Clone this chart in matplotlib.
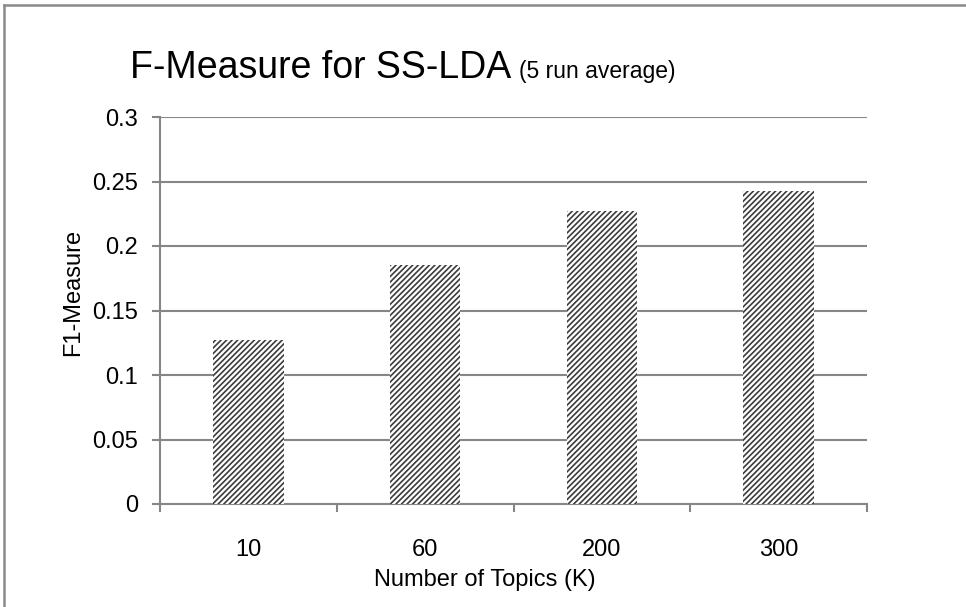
import matplotlib
matplotlib.use("Agg")
import matplotlib.pyplot as plt
from matplotlib.lines import Line2D

plt.rcParams['font.family'] = ['Liberation Sans', 'DejaVu Sans']
plt.rcParams['hatch.color'] = '#3c3c3c'
plt.rcParams['hatch.linewidth'] = 1.2

topics = ['10', '60', '200', '300']
f1 = [0.127, 0.185, 0.227, 0.243]
yticks = [0, 0.05, 0.1, 0.15, 0.2, 0.25, 0.3]
ytick_labels = ['0', '0.05', '0.1', '0.15', '0.2', '0.25', '0.3']

grey = '#868686'

fig = plt.figure(figsize=(9.66, 6.07), dpi=100)
ax = fig.add_axes([160 / 966, 1 - 504 / 607, 707 / 966, 387 / 607])

pos = list(range(len(topics)))
ax.bar(pos, f1, width=0.4, color='white', edgecolor='#3c3c3c',
       linewidth=0, hatch='//////', zorder=3)

ax.set_xlim(-0.5, len(topics) - 0.5)
ax.set_ylim(0, 0.3)
ax.set_yticks(yticks)
ax.set_yticklabels(ytick_labels)
ax.set_xticks(pos)
ax.set_xticklabels(topics)
ax.set_xticks([p - 0.5 for p in pos] + [len(topics) - 0.5], minor=True)

ax.grid(axis='y', color=grey, linewidth=1.5, zorder=0)
ax.set_axisbelow(True)
for s in ['top', 'right']:
    ax.spines[s].set_visible(False)
for s in ['left', 'bottom']:
    ax.spines[s].set_color(grey)
    ax.spines[s].set_linewidth(1.5)

ax.tick_params(axis='y', length=6, width=1.5, color=grey, labelsize=17, pad=10)
ax.tick_params(axis='x', which='major', length=0, labelsize=17, pad=25)
ax.tick_params(axis='x', which='minor', length=6, width=1.5, color=grey)

fig.text(73 / 966, 1 - 292 / 607, 'F1-Measure', rotation=90, fontsize=17,
         ha='center', va='center')
fig.text(485 / 966, 1 - 580 / 607, 'Number of Topics (K)', fontsize=17,
         ha='center', va='center')

# title in two sizes; the small part starts right after the big one
t1 = fig.text(130 / 966, 1 - 78 / 607, 'F-Measure for SS-LDA', fontsize=27,
              ha='left', va='baseline')
fig.canvas.draw()
bb = t1.get_window_extent(renderer=fig.canvas.get_renderer())
fig.text((bb.x1 + 8) / 966, 1 - 78 / 607, '(5 run average)', fontsize=16.5,
         ha='left', va='baseline')

# outer chart frame (top and left edges)
fig.add_artist(Line2D([4 / 966, 1], [1 - 5 / 607, 1 - 5 / 607],
                      transform=fig.transFigure, color='#8a8a8a', linewidth=1.8))
fig.add_artist(Line2D([4 / 966, 4 / 966], [0, 1 - 5 / 607],
                      transform=fig.transFigure, color='#8a8a8a', linewidth=1.8))

fig.savefig('out.png', dpi=100)
